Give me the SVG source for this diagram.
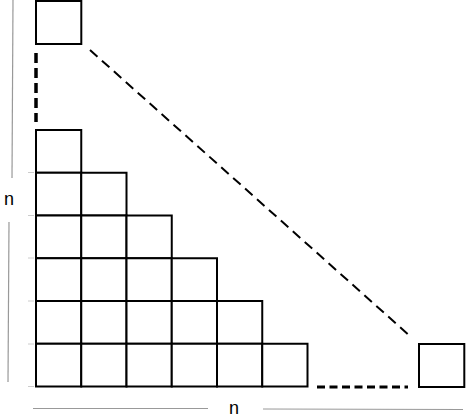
<svg xmlns="http://www.w3.org/2000/svg" width="474" height="420" viewBox="0 0 474 420">
<style>
.cell{fill:#fff;stroke:#000;stroke-width:2}
.meas{stroke:#999;stroke-width:1.2;fill:none}
.tick{stroke:#ccc;stroke-width:1}
.lbl{font-family:"Liberation Sans",Arial,sans-serif;font-size:18px;fill:#000}
</style>
<rect width="474" height="420" fill="#fff"/>
<g id="measures">
<line class="meas" x1="13" y1="0" x2="12" y2="178"/>
<line class="meas" x1="9" y1="222" x2="8" y2="382"/>
<line class="meas" x1="33" y1="408.5" x2="208" y2="408.5"/>
<line class="meas" x1="263" y1="409" x2="463" y2="409.5"/>
<text class="lbl" x="4" y="205">n</text>
<text class="lbl" x="229" y="414">n</text>
</g>
<g id="ticks">
<line class="tick" x1="28" y1="172.5" x2="34" y2="172.5"/>
<line class="tick" x1="28" y1="215.5" x2="34" y2="215.5"/>
<line class="tick" x1="28" y1="258" x2="34" y2="258"/>
<line class="tick" x1="28" y1="301" x2="34" y2="301"/>
<line class="tick" x1="28" y1="344" x2="34" y2="344"/>
<line class="tick" x1="28" y1="386.5" x2="34" y2="386.5"/>
</g>
<g id="connectors" fill="none" stroke="#000">
<line x1="36" y1="53" x2="36" y2="122" stroke-width="3.5" stroke-dasharray="10,5"/>
<line x1="317" y1="387" x2="408" y2="387" stroke-width="3" stroke-dasharray="8,4.5"/>
<line x1="90" y1="50" x2="410" y2="336" stroke-width="2" stroke-dasharray="10,6"/>
</g>
<g id="top-square"><rect class="cell" x="36" y="1" width="45.3" height="43"/></g>
<g id="corner-square"><rect class="cell" x="419" y="344" width="45.3" height="43"/></g>
<g id="staircase">
<rect class="cell" x="36" y="130" width="45.25" height="42.75"/>
<rect class="cell" x="36" y="172.75" width="45.25" height="42.75"/>
<rect class="cell" x="81.25" y="172.75" width="45.25" height="42.75"/>
<rect class="cell" x="36" y="215.5" width="45.25" height="42.75"/>
<rect class="cell" x="81.25" y="215.5" width="45.25" height="42.75"/>
<rect class="cell" x="126.5" y="215.5" width="45.25" height="42.75"/>
<rect class="cell" x="36" y="258.25" width="45.25" height="42.75"/>
<rect class="cell" x="81.25" y="258.25" width="45.25" height="42.75"/>
<rect class="cell" x="126.5" y="258.25" width="45.25" height="42.75"/>
<rect class="cell" x="171.75" y="258.25" width="45.25" height="42.75"/>
<rect class="cell" x="36" y="301" width="45.25" height="42.75"/>
<rect class="cell" x="81.25" y="301" width="45.25" height="42.75"/>
<rect class="cell" x="126.5" y="301" width="45.25" height="42.75"/>
<rect class="cell" x="171.75" y="301" width="45.25" height="42.75"/>
<rect class="cell" x="217" y="301" width="45.25" height="42.75"/>
<rect class="cell" x="36" y="343.75" width="45.25" height="42.75"/>
<rect class="cell" x="81.25" y="343.75" width="45.25" height="42.75"/>
<rect class="cell" x="126.5" y="343.75" width="45.25" height="42.75"/>
<rect class="cell" x="171.75" y="343.75" width="45.25" height="42.75"/>
<rect class="cell" x="217" y="343.75" width="45.25" height="42.75"/>
<rect class="cell" x="262.25" y="343.75" width="45.25" height="42.75"/>
</g>
</svg>
